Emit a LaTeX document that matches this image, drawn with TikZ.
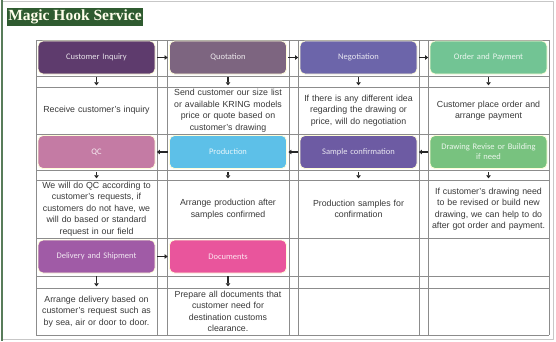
\documentclass[tikz,border=0pt]{standalone}
\usepackage{fontspec}
\setmainfont{Liberation Sans}
\newfontfamily\titlefont{Liberation Serif}
\newfontfamily\boxfont{Carlito}
\usetikzlibrary{arrows.meta,positioning}

\begin{document}
\begin{tikzpicture}[x=1pt,y=-1pt,line join=round,
  gridln/.style={draw=black!45,line width=0.7pt},
  stagebox/.style={rounded corners=5pt,minimum width=117pt,minimum height=33pt,inner sep=1pt,
    draw=yellow!15!white,line width=0.8pt,text width=112pt,align=center,
    font=\boxfont\fontsize{8.5}{10}\selectfont},
  celltext/.style={inner sep=0pt,text width=120pt,align=center,text=black!78,
    minimum height=#1,font=\fontsize{8.8}{11.5}\selectfont},
  celltext/.default=47pt,
  flowarr/.style={-{Triangle[length=3pt,width=4.5pt]},line width=1.6pt,black!85}]
\definecolor{inqc}{HTML}{5E3B6D}\definecolor{quoc}{HTML}{7D6580}
\definecolor{negc}{HTML}{6C65AA}\definecolor{ordc}{HTML}{72C494}
\definecolor{qcc}{HTML}{C47BA4}\definecolor{prodc}{HTML}{5DC0E8}
\definecolor{sampc}{HTML}{6D5BA3}\definecolor{drwc}{HTML}{78C27F}
\definecolor{dlvc}{HTML}{A05BA6}\definecolor{docc}{HTML}{E9559C}
\definecolor{ttlc}{HTML}{2F5B30}
\useasboundingbox (0,0) rectangle (556,341);
% page frame and title
\draw[black!22,line width=0.8pt] (1,1) rectangle (553,339);
\draw[ttlc!80,line width=2pt] (2,0) -- (2,341);
\node[fill=ttlc,minimum width=136pt,minimum height=18pt,inner sep=0pt,text=yellow!8!white,
  font=\titlefont\bfseries\fontsize{15.5}{17}\selectfont] (ttl) at (75,17) {Magic Hook Service};
% table grid: narrow columns between the stages hold the side arrows
\foreach \x in {36,157,167,289,298,419,428,549}{\draw[gridln] (\x,40) -- (\x,335);}
\foreach \y in {40,76,87,134,170,180,238,276,288,335}{\draw[gridln] (36,\y) -- (549,\y);}
% stage boxes
\node[stagebox,fill=inqc,text=inqc!15!white] (inq) at (96.5,57.5) {Customer Inquiry};
\node[stagebox,fill=quoc,text=quoc!15!white] (quo) at (228,57.5) {Quotation};
\node[stagebox,fill=negc,text=negc!15!white] (neg) at (358.5,57.5) {Negotiation};
\node[stagebox,fill=ordc,text=ordc!15!white] (ord) at (488.5,57.5) {Order and Payment};
\node[stagebox,fill=qcc,text=qcc!15!white] (qc) at (96.5,152) {QC};
\node[stagebox,fill=prodc,text=prodc!15!white] (prod) at (228,152) {Production};
\node[stagebox,fill=sampc,text=sampc!15!white] (samp) at (358.5,152) {Sample confirmation};
\node[stagebox,fill=drwc,text=drwc!15!white] (drw) at (488.5,152) {Drawing Revise or Building\\if need};
\node[stagebox,fill=dlvc,text=dlvc!15!white] (dlv) at (96.5,256.5) {Delivery and Shipment};
\node[stagebox,fill=docc,text=docc!15!white] (docs) at (228,256.5) {Documents};
% descriptions, one per table cell
\node[celltext] (inqT) at (96.5,110.5) {Receive customer’s inquiry};
\node[celltext] (quoT) at (228,110.5) {Send customer our size list\\or available KRING models\\price or quote based on\\customer’s drawing};
\node[celltext] (negT) at (358.5,110.5) {If there is any different idea\\regarding the drawing or\\price, will do negotiation};
\node[celltext] (ordT) at (488.5,110.5) {Customer place order and\\arrange payment};
\node[celltext=58pt] (qcT) at (96.5,209) {We will do QC according to\\customer’s requests, if\\customers do not have, we\\will do based or standard\\request in our field};
\node[celltext=58pt] (prodT) at (228,209) {Arrange production after\\samples confirmed};
\node[celltext=58pt] (sampT) at (358.5,209) {Production samples for\\confirmation};
\node[celltext=58pt] (drwT) at (488.5,209) {If customer’s drawing need\\to be revised or build new\\drawing, we can help to do\\after got order and payment.};
\node[celltext] (dlvT) at (96.5,311.5) {Arrange delivery based on\\customer’s request such as\\by sea, air or door to door.};
\node[celltext] (docsT) at (228,311.5) {Prepare all documents that\\customer need for\\destination customs\\clearance.};
% flow between stages
\foreach \a/\b in {inq/quo,quo/neg,neg/ord,drw/samp,samp/prod,prod/qc,dlv/docs}
  \draw[flowarr,shorten <=1.5pt,shorten >=1.5pt] (\a) -- (\b);
% each stage down to its description
\foreach \a in {inq,quo,neg,ord,qc,prod,samp,drw,dlv,docs}
  \draw[flowarr,shorten <=3pt,shorten >=1.5pt] (\a) -- (\a T);
\end{tikzpicture}
\end{document}
